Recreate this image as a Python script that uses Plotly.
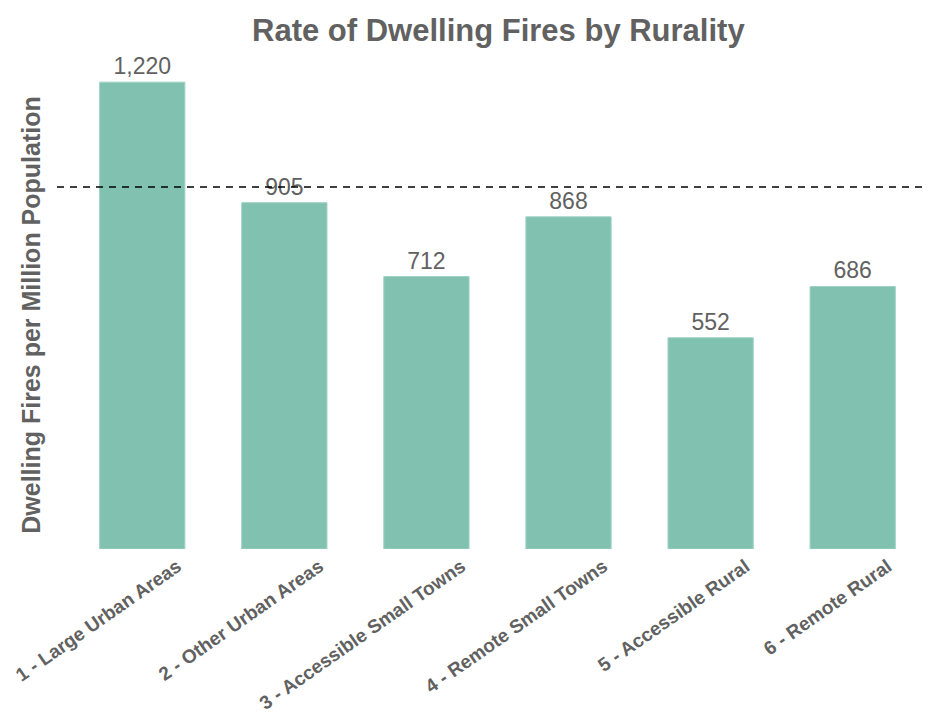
import plotly.graph_objects as go

categories = ["1 - Large Urban Areas", "2 - Other Urban Areas", "3 - Accessible Small Towns",
              "4 - Remote Small Towns", "5 - Accessible Rural", "6 - Remote Rural"]
rates = [1220, 905, 712, 868, 552, 686]
reference_rate = 946

GREY = "#616161"
BAR = "#80c1b0"

fig = go.Figure()
fig.add_trace(go.Bar(
    x=categories, y=rates,
    marker=dict(color=BAR, line=dict(color="#9fd2c4", width=1)),
    width=0.6,
    text=[f"{v:,}" for v in rates],
    textposition="outside",
    textfont=dict(family="Liberation Sans, Arial", size=23, color=GREY),
    cliponaxis=False,
    hoverinfo="skip",
))

fig.add_shape(type="line", xref="paper", x0=0, x1=1, yref="y", y0=reference_rate, y1=reference_rate,
              line=dict(color="black", width=1.5, dash="7px,6px"), layer="above")

fig.update_layout(
    width=928, height=713,
    margin=dict(l=57, r=0, t=81, b=164),
    paper_bgcolor="white", plot_bgcolor="white",
    showlegend=False,
    font=dict(family="Liberation Sans, Arial", color=GREY),
    title=dict(text="<b>Rate of Dwelling Fires by Rurality</b>", x=0.537, xanchor="center",
               y=1 - 30 / 713, yanchor="middle", yref="container",
               font=dict(size=31, color=GREY, family="Liberation Sans, Arial")),
    xaxis=dict(range=[-0.6, 5.53], showgrid=False, zeroline=False, showline=False,
               ticks="", tickangle=-35, automargin=False,
               ticklabelshift=35, ticklabelstandoff=2,
               tickfont=dict(size=19, color=GREY, family="Liberation Sans, Arial", weight="bold")),
    yaxis=dict(range=[0, 1223], showgrid=False, zeroline=False, showline=False,
               showticklabels=False, ticks="", automargin=False,
               title=dict(text="<b>Dwelling Fires per Million Population</b>", standoff=8,
                          font=dict(size=25, color=GREY, family="Liberation Sans, Arial"))),
)

fig.write_html("out.html", config={"displayModeBar": False},
               post_script="document.body.style.margin='0';")
